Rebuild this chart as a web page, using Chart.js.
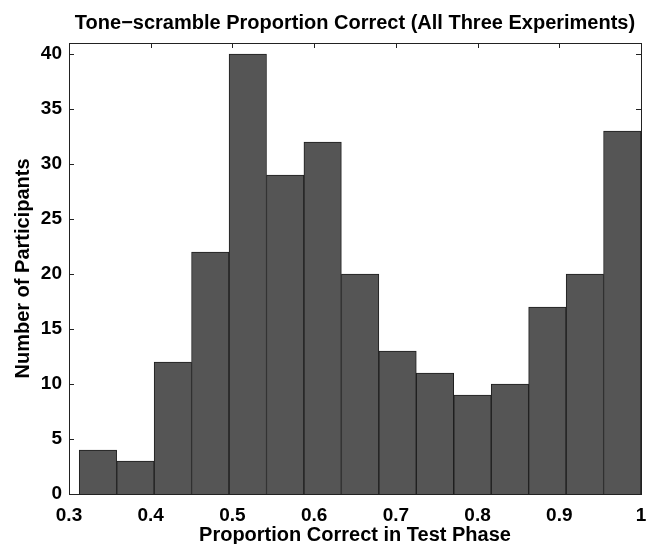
<!DOCTYPE html>
<html>
<head>
<meta charset="utf-8">
<script src="https://cdn.jsdelivr.net/npm/chart.js@4/dist/chart.umd.min.js"></script>
<style>
    html, body { margin: 0; padding: 0; background: #fff; }
    #wrap { width: 652px; height: 544px; }
</style>
</head>
<body>
<div id="wrap"><canvas id="histChart" width="652" height="544"></canvas></div>
<script>
// histogram bins (centres) and counts
const binCenters = [0.3354, 0.3813, 0.4271, 0.4729, 0.5188, 0.5646, 0.6104, 0.6563,
                    0.7021, 0.7479, 0.7938, 0.8396, 0.8854, 0.9313, 0.9771];
const counts = [4, 3, 12, 22, 40, 29, 32, 20, 13, 11, 9, 10, 17, 20, 33];
const xTicks = [0.3, 0.4, 0.5, 0.6, 0.7, 0.8, 0.9, 1];
const yTicks = [0, 5, 10, 15, 20, 25, 30, 35, 40];

const boldFont = { family: '"Liberation Sans", Arial, sans-serif', size: 19, weight: 'bold' };
const titleFont = { family: '"Liberation Sans", Arial, sans-serif', size: 20, weight: 'bold' };

// matlab style box with inward ticks on all four sides
const boxPlugin = {
    id: 'matlabBox',
    beforeDatasetsDraw(chart) {
        const { ctx, chartArea: a, scales } = chart;
        const len = 5;
        ctx.save();
        ctx.strokeStyle = '#222';
        ctx.lineWidth = 1;
        ctx.beginPath();
        xTicks.forEach(v => {
            const px = Math.round(scales.x.getPixelForValue(v)) + 0.5;
            ctx.moveTo(px, a.bottom); ctx.lineTo(px, a.bottom - len);
            ctx.moveTo(px, a.top); ctx.lineTo(px, a.top + len);
        });
        yTicks.forEach(v => {
            const py = Math.round(scales.y.getPixelForValue(v)) + 0.5;
            ctx.moveTo(a.left, py); ctx.lineTo(a.left + len, py);
            ctx.moveTo(a.right, py); ctx.lineTo(a.right - len, py);
        });
        ctx.stroke();
        ctx.restore();
    },
    afterDatasetsDraw(chart) {
        const { ctx, chartArea: a } = chart;
        ctx.save();
        ctx.strokeStyle = '#222';
        ctx.lineWidth = 1;
        ctx.strokeRect(Math.round(a.left) + 0.5, Math.round(a.top) + 0.5,
                       Math.round(a.right - a.left), Math.round(a.bottom - a.top));
        ctx.restore();
    }
};

new Chart(document.getElementById('histChart'), {
    type: 'bar',
    data: {
        datasets: [{
            data: binCenters.map((c, i) => ({ x: c, y: counts[i] })),
            backgroundColor: '#555555',
            borderColor: '#1e1e1e',
            borderWidth: 1,
            barPercentage: 1,
            categoryPercentage: 1
        }]
    },
    options: {
        responsive: false,
        animation: false,
        devicePixelRatio: 1,
        layout: { padding: { top: 0, right: 11, left: 0, bottom: 0 } },
        plugins: {
            legend: { display: false },
            tooltip: { enabled: false }
        },
        scales: {
            x: {
                type: 'linear',
                min: 0.3,
                max: 1,
                offset: false,
                afterBuildTicks: s => { s.ticks = xTicks.map(v => ({ value: v })); },
                afterFit: s => { s.height = 50; },
                ticks: {
                    font: boldFont,
                    color: '#000',
                    padding: 2,
                    maxRotation: 0,
                    callback: v => (v === 1 ? '1' : v.toFixed(1))
                },
                grid: { display: false },
                border: { display: false },
                title: {
                    display: true,
                    text: 'Proportion Correct in Test Phase',
                    font: titleFont,
                    color: '#000',
                    padding: { top: 0, bottom: -3 }
                }
            },
            top: {
                type: 'linear',
                axis: 'x',
                position: 'top',
                afterFit: s => { s.height = 43; },
                ticks: { display: false },
                grid: { display: false },
                border: { display: false },
                title: {
                    display: true,
                    text: 'Tone\u2212scramble Proportion Correct (All Three Experiments)',
                    font: titleFont,
                    color: '#000',
                    padding: { top: 11, bottom: 0 }
                }
            },
            y: {
                min: 0,
                max: 41,
                afterBuildTicks: s => { s.ticks = yTicks.map(v => ({ value: v })); },
                afterFit: s => { s.width = 69; },
                ticks: {
                    font: boldFont,
                    color: '#000',
                    padding: 7
                },
                grid: { display: false, drawTicks: false },
                border: { display: false },
                title: {
                    display: true,
                    text: 'Number of Participants',
                    font: titleFont,
                    color: '#000',
                    padding: { top: 11, bottom: 0 }
                }
            }
        }
    },
    plugins: [boxPlugin]
});
</script>
</body>
</html>
